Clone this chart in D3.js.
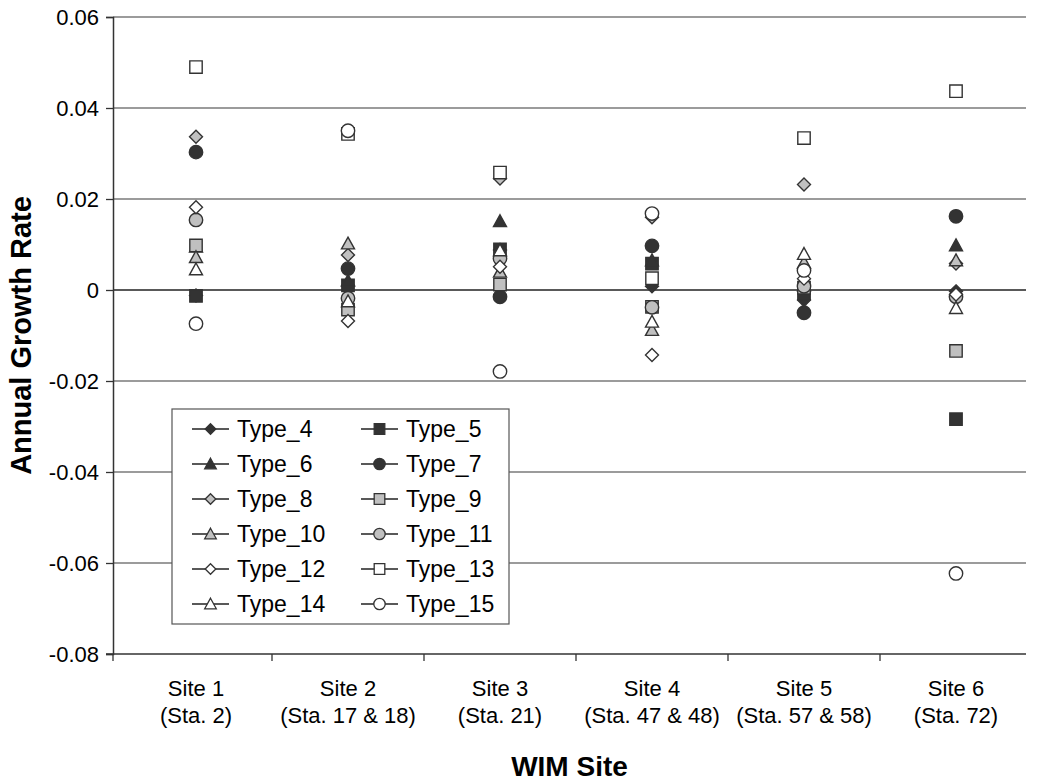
<!DOCTYPE html>
<html>
<head>
<meta charset="utf-8">
<script src="https://cdn.jsdelivr.net/npm/d3@7"></script>
<style>
  html, body { margin: 0; padding: 0; background: #fff; }
  svg { display: block; font-family: "Liberation Sans", Arial, sans-serif; }
</style>
</head>
<body>
<svg id="chart" width="1058" height="784"></svg>
<script>
// Site labels (two lines each)
const sites = ["Site 1", "Site 2", "Site 3", "Site 4", "Site 5", "Site 6"];
const stations = ["(Sta. 2)", "(Sta. 17 & 18)", "(Sta. 21)", "(Sta. 47 & 48)", "(Sta. 57 & 58)", "(Sta. 72)"];
const yTicks = [0.06, 0.04, 0.02, 0, -0.02, -0.04, -0.06, -0.08];
const yTickLabels = ["0.06", "0.04", "0.02", "0", "-0.02", "-0.04", "-0.06", "-0.08"];

// Annual growth rate by vehicle type, one value per site
const type4  = [-0.0012, 0.0010, 0.0088, 0.0008, -0.0022, -0.0003];
const type5  = [-0.0013, 0.0010, 0.0089, 0.0058, -0.0008, -0.0284];
const type6  = [0.0095, 0.0020, 0.0151, 0.0065, 0.0010, 0.0098];
const type7  = [0.0303, 0.0047, -0.0015, 0.0097, -0.0050, 0.0162];
const type8  = [0.0337, 0.0077, 0.0245, 0.0160, 0.0232, 0.0058];
const type9  = [0.0098, -0.0043, 0.0012, -0.0037, 0.0005, -0.0134];
const type10 = [0.0072, 0.0102, 0.0040, -0.0088, 0.0060, 0.0065];
const type11 = [0.0154, -0.0018, 0.0069, -0.0038, 0.0008, -0.0015];
const type12 = [0.0182, -0.0068, 0.0051, -0.0143, 0.0025, -0.0010];
const type13 = [0.0490, 0.0343, 0.0258, 0.0026, 0.0334, 0.0437];
const type14 = [0.0045, -0.0025, 0.0087, -0.0070, 0.0079, -0.0040];
const type15 = [-0.0074, 0.0350, -0.0179, 0.0168, 0.0043, -0.0623];

const DARK = "#333333", GRAY = "#c0c0c0", WHITE = "#ffffff";

const series = [
  { name: "Type_4",  values: type4,  shape: "diamond",  fill: DARK },
  { name: "Type_5",  values: type5,  shape: "square",   fill: DARK },
  { name: "Type_6",  values: type6,  shape: "triangle", fill: DARK },
  { name: "Type_7",  values: type7,  shape: "circle",   fill: DARK },
  { name: "Type_8",  values: type8,  shape: "diamond",  fill: GRAY },
  { name: "Type_9",  values: type9,  shape: "square",   fill: GRAY },
  { name: "Type_10", values: type10, shape: "triangle", fill: GRAY },
  { name: "Type_11", values: type11, shape: "circle",   fill: GRAY },
  { name: "Type_12", values: type12, shape: "diamond",  fill: WHITE },
  { name: "Type_13", values: type13, shape: "square",   fill: WHITE },
  { name: "Type_14", values: type14, shape: "triangle", fill: WHITE },
  { name: "Type_15", values: type15, shape: "circle",   fill: WHITE }
];

const svg = d3.select("#chart");
const plotL = 113, plotR = 1026, plotT = 17, plotB = 654;

// category bands; axis line and gridlines span the full plot
const x = d3.scaleBand().domain(sites).range([120, 1032]).padding(0);
const y = d3.scaleLinear().domain([-0.08, 0.06]).range([plotB, plotT]);
const cx = d => x(d) + x.bandwidth() / 2;

// marker path generators
function markerPath(shape) {
  if (shape === "diamond") return "M0,-6.5L6.5,0L0,6.5L-6.5,0Z";
  if (shape === "square") return "M-6.2,-6.2H6.2V6.2H-6.2Z";
  if (shape === "triangle") return "M0,-6.5L6.5,5.3H-6.5Z";
  return "M6.7,0A6.7,6.7 0 1,1 -6.7,0A6.7,6.7 0 1,1 6.7,0Z";
}
function legendPath(shape) {
  if (shape === "diamond") return "M0,-5.3L5.3,0L0,5.3L-5.3,0Z";
  if (shape === "square") return "M-5.3,-5.3H5.3V5.3H-5.3Z";
  if (shape === "triangle") return "M0,-5.8L5.8,4.8H-5.8Z";
  return "M5.7,0A5.7,5.7 0 1,1 -5.7,0A5.7,5.7 0 1,1 5.7,0Z";
}

// horizontal gridlines
svg.append("g").selectAll("line")
  .data(yTicks.filter(v => v !== -0.08))
  .join("line")
  .attr("x1", plotL).attr("x2", plotR)
  .attr("y1", d => y(d)).attr("y2", d => y(d))
  .attr("stroke", d => d === 0 ? "#222" : "#7a7a7a")
  .attr("stroke-width", 1.5);

// y axis
const yAxis = d3.axisLeft(y).tickValues(yTicks)
  .tickFormat((d, i) => yTickLabels[i]).tickSize(7).tickPadding(7);
const gy = svg.append("g").attr("transform", `translate(${plotL},0)`).call(yAxis);
gy.select(".domain").attr("stroke", "#333").attr("stroke-width", 1.5);
gy.selectAll(".tick line").attr("stroke", "#333").attr("stroke-width", 1.3);
gy.selectAll(".tick text").attr("font-size", 22).attr("fill", "#000")
  .attr("font-family", "Liberation Sans, Arial, sans-serif");

// x axis with tick marks between categories
const gx = svg.append("g").attr("transform", `translate(0,${plotB})`);
gx.append("line").attr("x1", plotL - 7).attr("x2", plotR)
  .attr("stroke", "#333").attr("stroke-width", 1.5);
const tickXs = [plotL].concat(sites.slice(1).map(d => x(d)));
gx.selectAll("line.tk").data(tickXs).join("line").attr("class", "tk")
  .attr("x1", d => d).attr("x2", d => d)
  .attr("y1", 0).attr("y2", 7)
  .attr("stroke", "#333").attr("stroke-width", 1.3);
const lab = gx.selectAll("text.site").data(sites).join("text").attr("class", "site")
  .attr("text-anchor", "middle").attr("font-size", 22).attr("fill", "#000");
lab.append("tspan").attr("x", cx).attr("y", 42).text(d => d);
lab.append("tspan").attr("x", cx).attr("y", 69).text((d, i) => stations[i]);

// axis titles
svg.append("text").attr("x", (plotL + plotR) / 2).attr("y", 776)
  .attr("text-anchor", "middle").attr("font-size", 28).attr("font-weight", "bold")
  .text("WIM Site");
svg.append("text").attr("transform", `translate(31,${(plotT + plotB) / 2}) rotate(-90)`)
  .attr("text-anchor", "middle").attr("font-size", 29).attr("font-weight", "bold")
  .text("Annual Growth Rate");

// markers
const gm = svg.append("g");
series.forEach(s => {
  gm.append("g").selectAll("path")
    .data(s.values.map((v, i) => ({ site: sites[i], v })))
    .join("path")
    .attr("d", markerPath(s.shape))
    .attr("transform", d => `translate(${cx(d.site)},${y(d.v)})`)
    .attr("fill", s.fill).attr("stroke", "#333").attr("stroke-width", 1.4);
});

// legend
const lg = svg.append("g");
lg.append("rect").attr("x", 172).attr("y", 409).attr("width", 337).attr("height", 215)
  .attr("fill", "#fff").attr("stroke", "#555").attr("stroke-width", 1.2);
series.forEach((s, i) => {
  const col = i % 2, row = Math.floor(i / 2);
  const lx = col === 0 ? 192 : 361;
  const ly = 429 + row * 35;
  const g = lg.append("g").attr("transform", `translate(${lx},${ly})`);
  g.append("line").attr("x1", 0).attr("x2", 37).attr("stroke", "#222").attr("stroke-width", 1.3);
  g.append("path").attr("d", legendPath(s.shape)).attr("transform", "translate(18.5,0)")
    .attr("fill", s.fill).attr("stroke", "#333").attr("stroke-width", 1.3);
  g.append("text").attr("x", 45).attr("y", 8).attr("font-size", 23).attr("fill", "#000")
    .text(s.name);
});
</script>
</body>
</html>
